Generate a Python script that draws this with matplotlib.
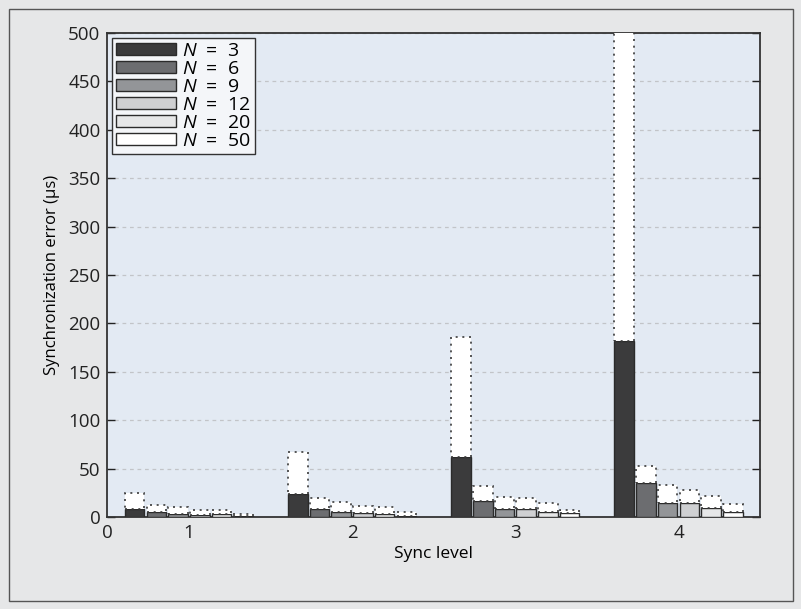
import numpy as np
import matplotlib
matplotlib.use('Agg')
import matplotlib.pyplot as plt
from matplotlib.patches import Rectangle

plt.rcParams['font.family'] = ['Open Sans', 'DejaVu Sans']
plt.rcParams['mathtext.fontset'] = 'custom'
plt.rcParams['mathtext.it'] = 'Open Sans:italic'
plt.rcParams['mathtext.rm'] = 'Open Sans'

sync_levels = [1, 2, 3, 4]
n_labels = ['3', '6', '9', '12', '20', '50']
bar_colors = ['#3b3b3c', '#6c6d70', '#939598', '#cfd0d2', '#e6e7e8', '#ffffff']

# solid part of each bar (rows: N, cols: sync level)
err_solid = [
    [8.0, 24.0, 61.5, 182.0],   # N = 3
    [4.8, 8.8, 16.5, 35.6],     # N = 6
    [3.1, 4.8, 8.0, 14.6],      # N = 9
    [2.3, 4.2, 8.7, 15.0],      # N = 12
    [2.9, 3.1, 4.8, 9.6],       # N = 20
    [1.0, 1.2, 3.9, 5.5],       # N = 50
]
# top of the dotted box
err_max = [
    [24.5, 67.5, 185.5, 520.0],
    [12.3, 19.5, 32.0, 53.0],
    [10.2, 15.2, 21.0, 33.2],
    [7.0, 11.2, 19.7, 28.3],
    [7.0, 10.2, 15.0, 21.7],
    [3.3, 4.9, 7.0, 13.0],
]

x_ticks = [0.5, 1, 2, 3, 4]
x_ticklabels = ['0', '1', '2', '3', '4']
y_ticks = list(range(0, 501, 50))

dpi = 100
fig = plt.figure(figsize=(801/dpi, 609/dpi), dpi=dpi, facecolor='#e6e7e8')
ax = fig.add_axes([0.134, 0.151, 0.815, 0.795])
ax.set_facecolor('#e3eaf3')

fig.patches.append(Rectangle((0.011, 0.013), 0.979, 0.973, transform=fig.transFigure,
                             fill=False, edgecolor='#555555', linewidth=1.0))

x = np.array(sync_levels, dtype=float)
width = 0.12
step = 0.133
for i, lab in enumerate(n_labels):
    pos = x + (i - 2.5) * step
    solid = np.array(err_solid[i])
    top = np.array(err_max[i])
    ax.bar(pos, solid, width, color=bar_colors[i], edgecolor='#2b2b2b',
           linewidth=1.0, zorder=3, label=f'$N$  =  {lab}')
    ax.bar(pos, top - solid, width, bottom=solid, color='white', edgecolor='#3a3a3a',
           linewidth=1.2, linestyle=(0, (1.2, 2.8)), zorder=3)

ax.set_xlim(0.5, 4.5)
ax.set_ylim(0, 500)
ax.set_xticks(x_ticks)
ax.set_xticklabels(x_ticklabels)
ax.set_yticks(y_ticks)
ax.tick_params(axis='y', direction='in', length=6, width=1, labelsize=13.5,
               right=True, colors='#222222', pad=5)
ax.tick_params(axis='x', length=0, labelsize=13.5, pad=5, colors='#222222')
ax.yaxis.grid(True, linestyle=(0, (3, 3)), color='#c2c4c8', linewidth=0.9, zorder=0)
ax.set_axisbelow(True)
for s in ax.spines.values():
    s.set_color('#333333')
    s.set_linewidth(1.3)

ax.set_xlabel('Sync level', fontsize=12.5, labelpad=3)
ax.set_ylabel('Synchronization error (μs)', fontsize=12, labelpad=6)

leg = ax.legend(loc='upper left', fontsize=14, handlelength=3.1, handleheight=0.6,
                handletextpad=0.3, labelspacing=0.0, borderpad=0.2,
                borderaxespad=0.25, fancybox=False, framealpha=1)
leg.get_frame().set_edgecolor('#333333')
leg.get_frame().set_facecolor('#f4f6f9')
leg.get_frame().set_linewidth(1.0)

fig.savefig('out.png', dpi=dpi, facecolor=fig.get_facecolor())
